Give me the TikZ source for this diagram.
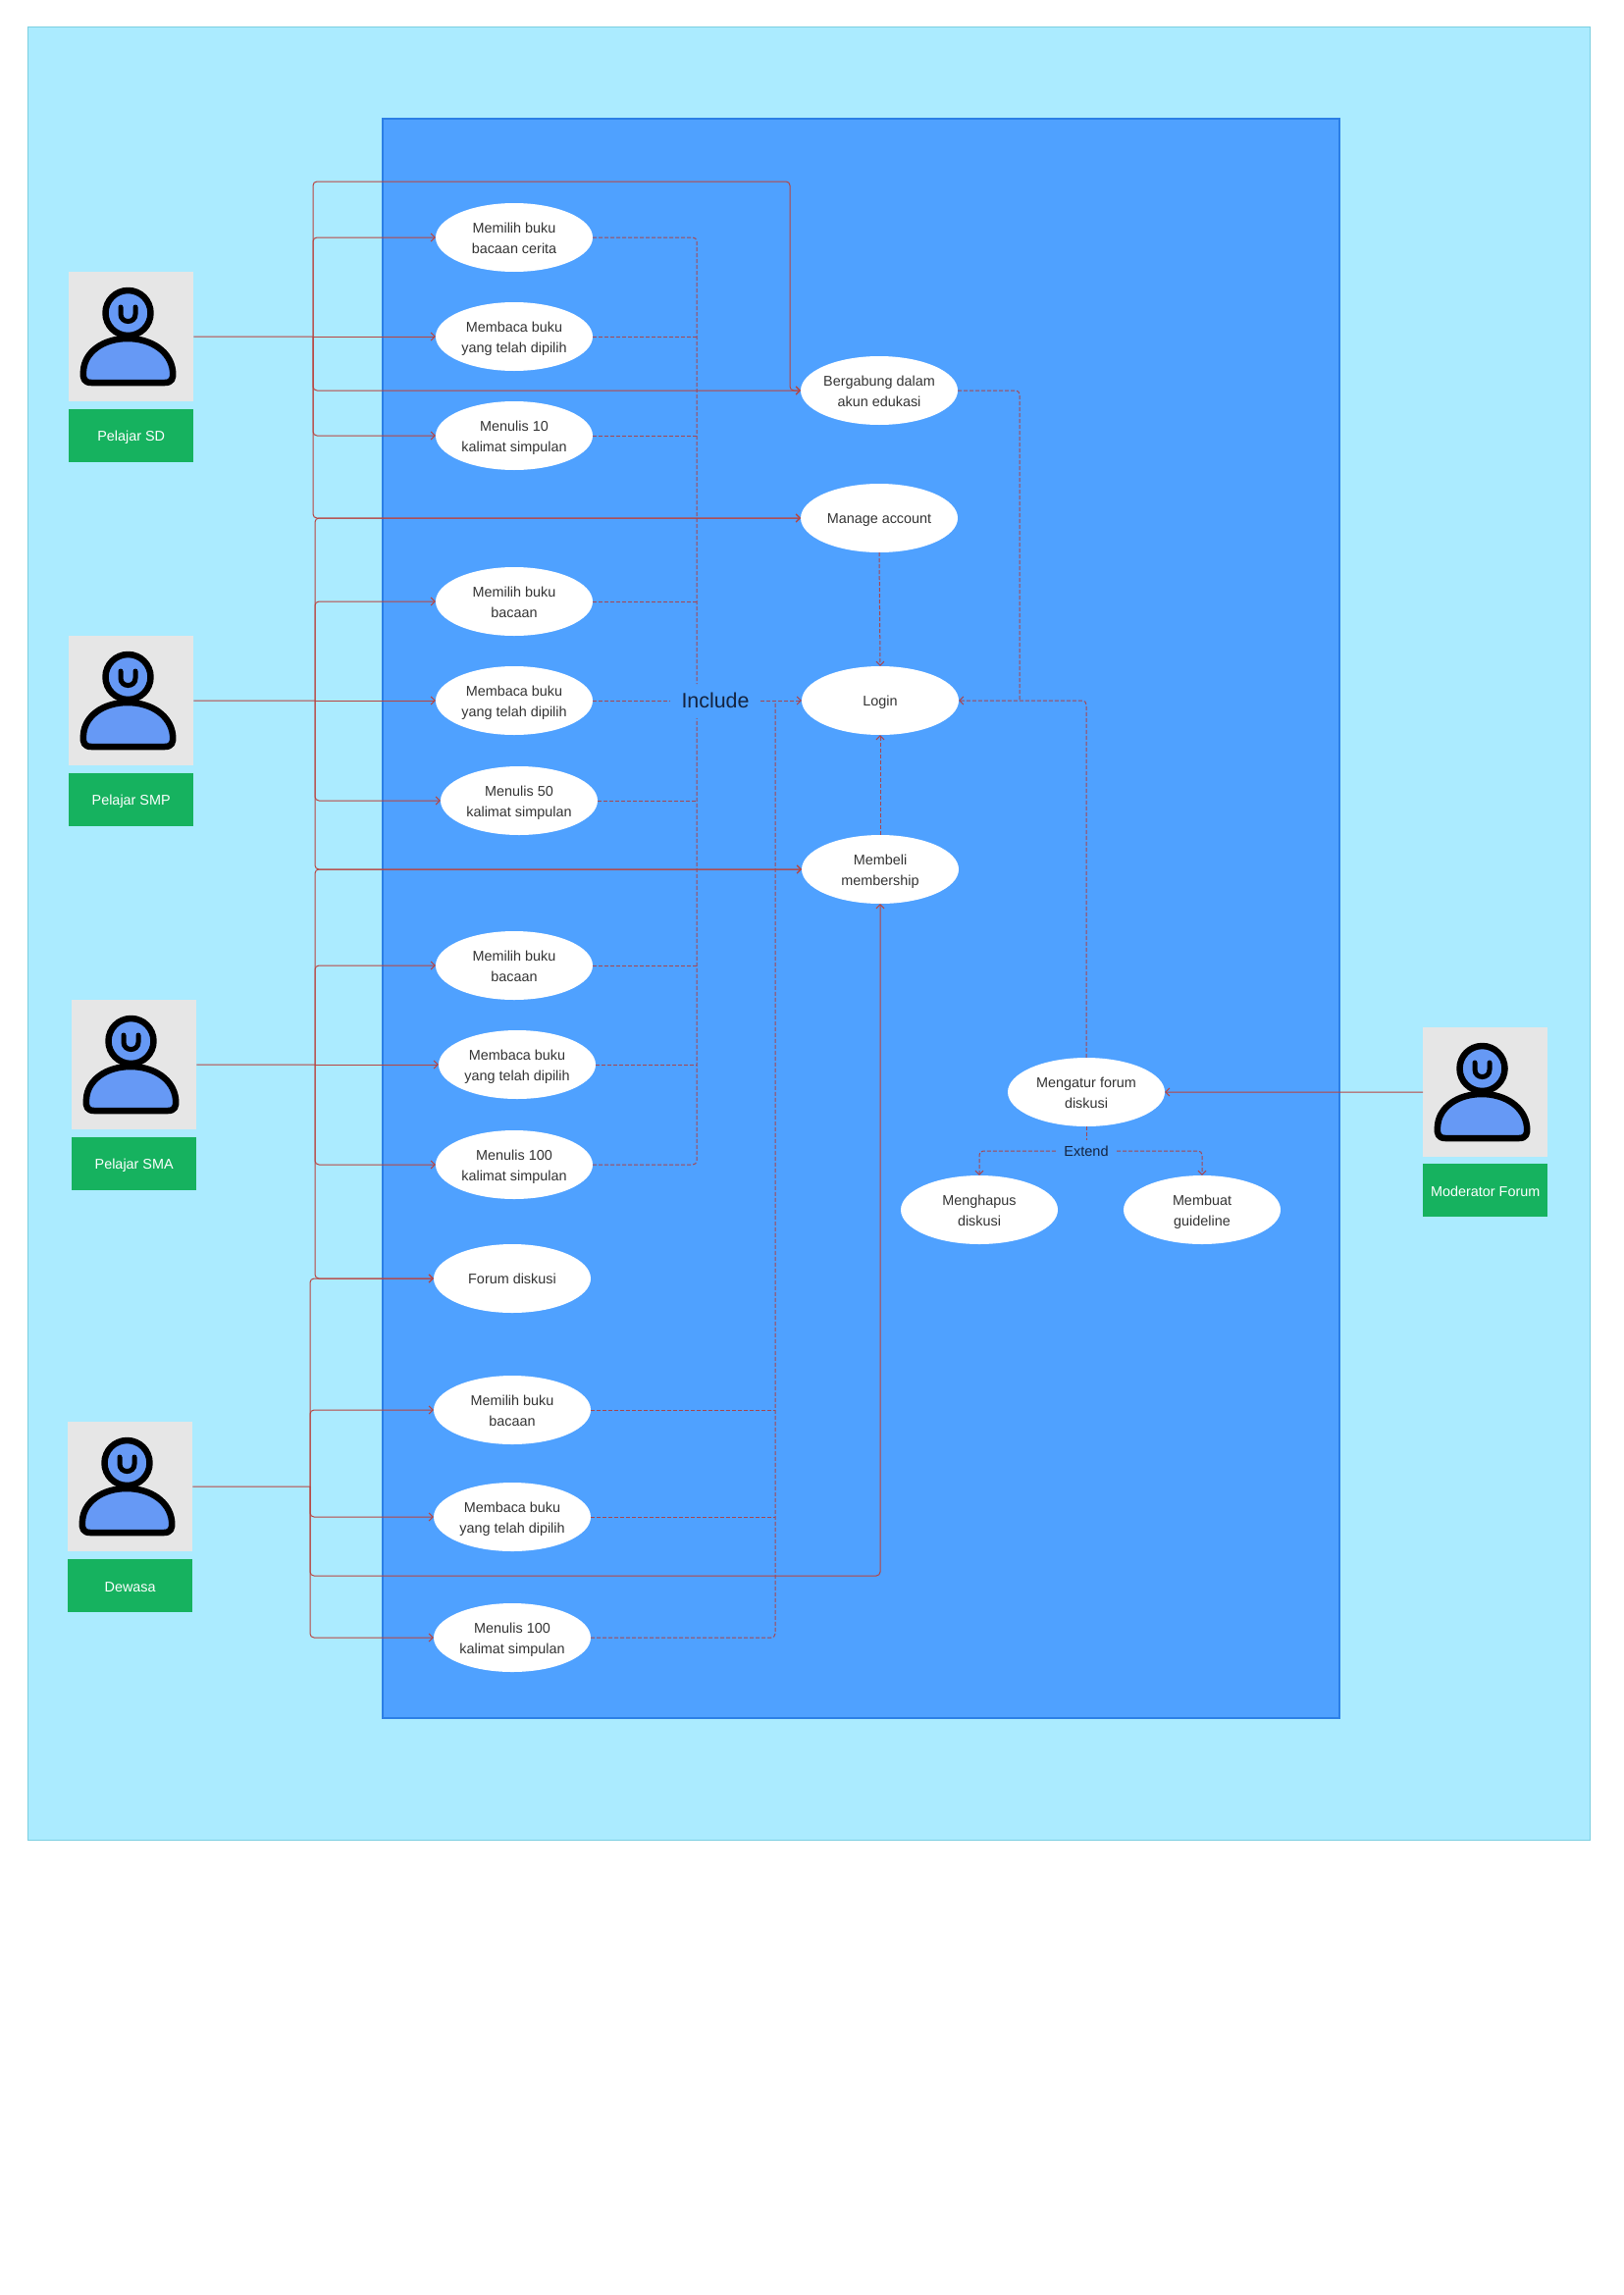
\documentclass[tikz,border=0pt]{standalone}
\usepackage{fontspec}
\setmainfont{Liberation Sans}
\usetikzlibrary{shapes.geometric,arrows.meta}
\definecolor{outerfill}{HTML}{ABEBFF}
\definecolor{outerline}{HTML}{7CCFE0}
\definecolor{innerfill}{HTML}{4FA1FF}
\definecolor{innerline}{HTML}{2B7FE6}
\definecolor{linkred}{HTML}{B8443F}
\definecolor{dashred}{HTML}{A8454F}
\definecolor{greyfill}{HTML}{E6E6E6}
\definecolor{greenfill}{HTML}{16B25F}
\definecolor{bodyblue}{HTML}{6699F5}
\definecolor{usetext}{HTML}{333333}
\definecolor{labeltext}{HTML}{14233F}
\tikzset{
  usecase/.style={ellipse,fill=white,minimum width=160pt,minimum height=70pt,inner ysep=0pt,inner xsep=-4pt,align=center,text=usetext,font=\fontsize{14.4}{21}\selectfont},
  greybox/.style={rectangle,fill=greyfill,minimum width=127pt,minimum height=132pt,inner sep=0pt,anchor=north west},
  greenbox/.style={rectangle,fill=greenfill,minimum width=127pt,minimum height=54pt,inner sep=0pt,anchor=north west,text=white,font=\fontsize{14.4}{18}\selectfont},
  lnk/.style={draw=linkred,line width=1pt,rounded corners=4pt,-{Straight Barb[length=4pt,width=8pt]}},
  lnkplain/.style={draw=linkred,line width=1pt,rounded corners=4pt},
  dsh/.style={draw=dashred,line width=1pt,rounded corners=4pt,dash pattern=on 4pt off 2pt},
  dsharrow/.style={dsh,-{Straight Barb[length=4pt,width=8pt]}},
  iconline/.style={draw=black,line width=6.5pt,fill=bodyblue,line join=round},
}
\newcommand{\uc}[1]{\raisebox{-1.5pt}[\height][\depth]{\begin{tabular}{@{}c@{}}#1\end{tabular}}}
\newcommand{\actorfig}[5]{%
  \node[greybox] (#1) at (#2,#3) {};
  \node[greenbox] (#1tag) at (#2,#4) {\raisebox{-1.5pt}[\height][\depth]{#5}};
  \begin{scope}[shift={(#2,#3)}]
    \draw[iconline] (23,113) -- (98,113) .. controls (105,113) and (107,109) .. (106,101)
      .. controls (104,82) and (85,68) .. (60,68) .. controls (35,68) and (16,82) .. (15,101)
      .. controls (14,109) and (16,113) .. (23,113) -- cycle;
    \draw[iconline] (60.5,42) ellipse (23 and 23);
    \draw[draw=black,line width=5pt,line cap=round] (53,36) -- (53,43) .. controls (53,53) and (68,53) .. (68,43) -- (68,36);
  \end{scope}
}
\begin{document}
\begin{tikzpicture}[x=1pt,y=-1pt]
\useasboundingbox (0,0) rectangle (1654,2339);
\fill[white] (0,0) rectangle (1654,2339);
\draw[fill=outerfill,draw=outerline,line width=1pt] (28,28) rectangle (1620,1875);
\draw[fill=innerfill,draw=innerline,line width=1.5pt] (390,121) rectangle (1365,1751);

\actorfig{sd}{70}{277}{417}{Pelajar SD}
\actorfig{smp}{70}{648}{788}{Pelajar SMP}
\actorfig{sma}{73}{1019}{1159}{Pelajar SMA}
\actorfig{dewasa}{69}{1449}{1589}{Dewasa}
\actorfig{moderator}{1450}{1047}{1186}{Moderator Forum}

\node[usecase] (a1) at (524,242) {\uc{Memilih buku\\bacaan cerita}};
\node[usecase] (a2) at (524,343) {\uc{Membaca buku\\yang telah dipilih}};
\node[usecase] (a3) at (524,444) {\uc{Menulis 10\\kalimat simpulan}};
\node[usecase] (b1) at (524,613) {\uc{Memilih buku\\bacaan}};
\node[usecase] (b2) at (524,714) {\uc{Membaca buku\\yang telah dipilih}};
\node[usecase] (b3) at (529,816) {\uc{Menulis 50\\kalimat simpulan}};
\node[usecase] (c1) at (524,984) {\uc{Memilih buku\\bacaan}};
\node[usecase] (c2) at (527,1085) {\uc{Membaca buku\\yang telah dipilih}};
\node[usecase] (c3) at (524,1187) {\uc{Menulis 100\\kalimat simpulan}};
\node[usecase] (forum) at (522,1303) {\uc{Forum diskusi}};
\node[usecase] (d1) at (522,1437) {\uc{Memilih buku\\bacaan}};
\node[usecase] (d2) at (522,1546) {\uc{Membaca buku\\yang telah dipilih}};
\node[usecase] (d3) at (522,1669) {\uc{Menulis 100\\kalimat simpulan}};
\node[usecase] (join) at (896,398) {\uc{Bergabung dalam\\akun edukasi}};
\node[usecase] (manage) at (896,528) {\uc{Manage account}};
\node[usecase] (login) at (897,714) {\uc{Login}};
\node[usecase] (member) at (897,886) {\uc{Membeli\\membership}};
\node[usecase] (atur) at (1107,1113) {\uc{Mengatur forum\\diskusi}};
\node[usecase] (hapus) at (998,1233) {\uc{Menghapus\\diskusi}};
\node[usecase] (guide) at (1225,1233) {\uc{Membuat\\guideline}};
\node[text=labeltext,font=\fontsize{21.4}{26}\selectfont,minimum width=92pt,minimum height=35pt,inner sep=0pt] (incl) at (729,714) {Include};
\node[text=labeltext,font=\fontsize{14.5}{18}\selectfont,minimum width=62pt,minimum height=22pt,inner sep=0pt] (ext) at (1107,1173) {Extend};

% junctions
\coordinate (j1) at (319,343);
\coordinate (j2) at (321,714);
\coordinate (j3) at (321,1085);
\coordinate (j4) at (316,1515);
\coordinate (topc) at (805,185);
\coordinate (colT) at (710,697);
\coordinate (colB) at (710,732);
\coordinate (colR) at (790,714);
\coordinate (barr) at (897,1606);
\coordinate (rightc) at (1039,714);
\coordinate (extL) at (998,1173);
\coordinate (extR) at (1225,1173);

% Pelajar SD
\draw[lnkplain] (sd.east) -- (j1);
\draw[lnk] (j1) |- (topc) |- (join.west);
\draw[lnk] (j1) |- (a1.west);
\draw[lnk] (j1) -- (a2.west);
\draw[lnk] (j1) |- (join.west);
\draw[lnk] (j1) |- (a3.west);
\draw[lnk] (j1) |- (manage.west);
% Pelajar SMP
\draw[lnkplain] (smp.east) -- (j2);
\draw[lnk] (j2) |- (manage.west);
\draw[lnk] (j2) |- (b1.west);
\draw[lnk] (j2) -- (b2.west);
\draw[lnk] (j2) |- (b3.west);
\draw[lnk] (j2) |- (member.west);
% Pelajar SMA
\draw[lnkplain] (sma.east) -- (j3);
\draw[lnk] (j3) |- (member.west);
\draw[lnk] (j3) |- (c1.west);
\draw[lnk] (j3) -- (c2.west);
\draw[lnk] (j3) |- (c3.west);
\draw[lnk] (j3) |- (forum.west);
% Dewasa
\draw[lnkplain] (dewasa.east) -- (j4);
\draw[lnk] (j4) |- (forum.west);
\draw[lnk] (j4) |- (d1.west);
\draw[lnk] (j4) |- (d2.west);
\draw[lnk] (j4) |- (barr) -- (member.south);
\draw[lnk] (j4) |- (d3.west);
% Moderator
\draw[lnk] (moderator.west) -- (atur.east);

% include links
\draw[dsh] (a1.east) -| (colT);
\draw[dsh] (a2.east) -- (a2.east -| colT);
\draw[dsh] (a3.east) -- (a3.east -| colT);
\draw[dsh] (b1.east) -- (b1.east -| colT);
\draw[dsh] (b2.east) -- (incl.west);
\draw[dsh] (b3.east) -- (b3.east -| colB);
\draw[dsh] (c1.east) -- (c1.east -| colB);
\draw[dsh] (c2.east) -- (c2.east -| colB);
\draw[dsh] (c3.east) -| (colB);
\draw[dsharrow] (incl.east) -- (login.west);
\draw[dsh] (d1.east) -- (d1.east -| colR);
\draw[dsh] (d2.east) -- (d2.east -| colR);
\draw[dsh] (d3.east) -| (colR);
% login links
\draw[dsharrow] (manage.south) -- (login.north);
\draw[dsharrow] (member.north) -- (login.south);
\draw[dsharrow] (atur.north) |- (login.east);
\draw[dsh] (join.east) -| (rightc);
% extend links
\draw[dsh] (atur.south) -- (ext.north);
\draw[dsharrow] (ext.west) -- (extL) -- (hapus.north);
\draw[dsharrow] (ext.east) -- (extR) -- (guide.north);
\end{tikzpicture}
\end{document}
